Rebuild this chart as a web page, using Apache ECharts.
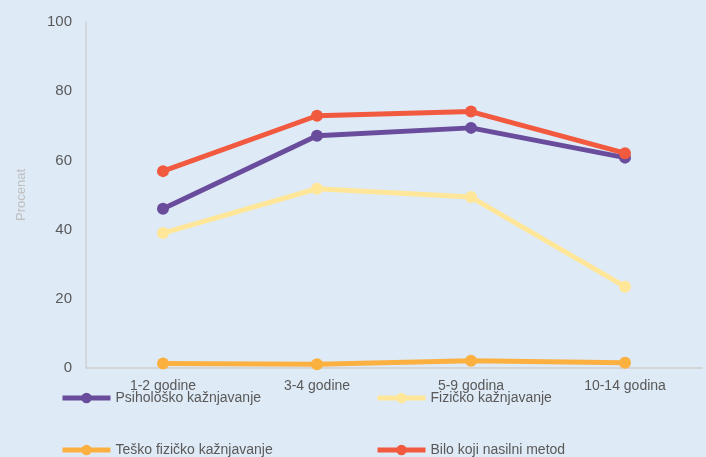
<!DOCTYPE html>
<html>
<head>
<meta charset="utf-8">
<script src="https://cdn.jsdelivr.net/npm/echarts@6/dist/echarts.min.js"></script>
<style>
  html, body { margin: 0; padding: 0; background: #deeaf6; }
  #chart { width: 706px; height: 457px; }
</style>
</head>
<body>
<div id="chart"></div>
<script>
// Age groups on the x axis
var categories = ['1-2 godine', '3-4 godine', '5-9 godina', '10-14 godina'];

// Share of children (%) by disciplining method
var psiholosko = [46.0, 67.1, 69.4, 60.8];
var fizicko = [39.0, 51.8, 49.4, 23.5];
var teskoFizicko = [1.3, 1.1, 2.1, 1.5];
var biloKoji = [56.9, 72.9, 74.1, 62.1];

var seriesNames = ['Psihološko kažnjavanje', 'Fizičko kažnjavanje', 'Teško fizičko kažnjavanje', 'Bilo koji nasilni metod'];
var yTicks = [0, 20, 40, 60, 80, 100];

var colors = ['#6a4c9c', '#ffe699', '#fbb040', '#f25a40'];
var font = 'Liberation Sans';

function lineSeries(name, data, color, z) {
  return {
    name: name,
    type: 'line',
    data: data,
    z: z,
    symbol: 'circle',
    symbolSize: 12,
    lineStyle: { width: 5, color: color },
    itemStyle: { color: color },
    emphasis: { disabled: true }
  };
}

function legendColumn(names, left) {
  return {
    data: names,
    orient: 'vertical',
    left: left,
    top: 386,
    height: 140,
    itemWidth: 48,
    itemHeight: 13,
    itemGap: 38,
    itemTextGap: 4,
    lineStyle: { width: 5 },
    textStyle: { fontFamily: font, fontSize: 14, color: '#595959' }
  };
}

var chart = echarts.init(document.getElementById('chart'));
chart.setOption({
  backgroundColor: '#deeaf6',
  animation: false,
  textStyle: { fontFamily: font },
  grid: { left: 86, right: 4, top: 22, bottom: 89, containLabel: false },
  legend: [
    legendColumn([seriesNames[0], seriesNames[2]], 55),
    legendColumn([seriesNames[1], seriesNames[3]], 370)
  ],
  xAxis: {
    type: 'category',
    data: categories,
    boundaryGap: true,
    axisLine: { lineStyle: { color: '#d0d0d0', width: 1.5 } },
    axisTick: { show: false },
    axisLabel: { fontFamily: font, fontSize: 14, color: '#595959', margin: 11 }
  },
  yAxis: {
    type: 'value',
    min: yTicks[0],
    max: yTicks[yTicks.length - 1],
    interval: 20,
    name: 'Procenat',
    nameLocation: 'middle',
    nameGap: 58,
    nameTextStyle: { fontFamily: font, fontSize: 13, color: '#bfbfbf' },
    axisLine: { show: true, lineStyle: { color: '#d0d0d0', width: 1.5 } },
    axisTick: { show: false },
    splitLine: { show: false },
    axisLabel: { fontFamily: font, fontSize: 15, color: '#595959', margin: 14 }
  },
  series: [
    lineSeries(seriesNames[0], psiholosko, colors[0], 3),
    lineSeries(seriesNames[1], fizicko, colors[1], 2),
    lineSeries(seriesNames[2], teskoFizicko, colors[2], 1),
    lineSeries(seriesNames[3], biloKoji, colors[3], 4)
  ]
});
</script>
</body>
</html>
